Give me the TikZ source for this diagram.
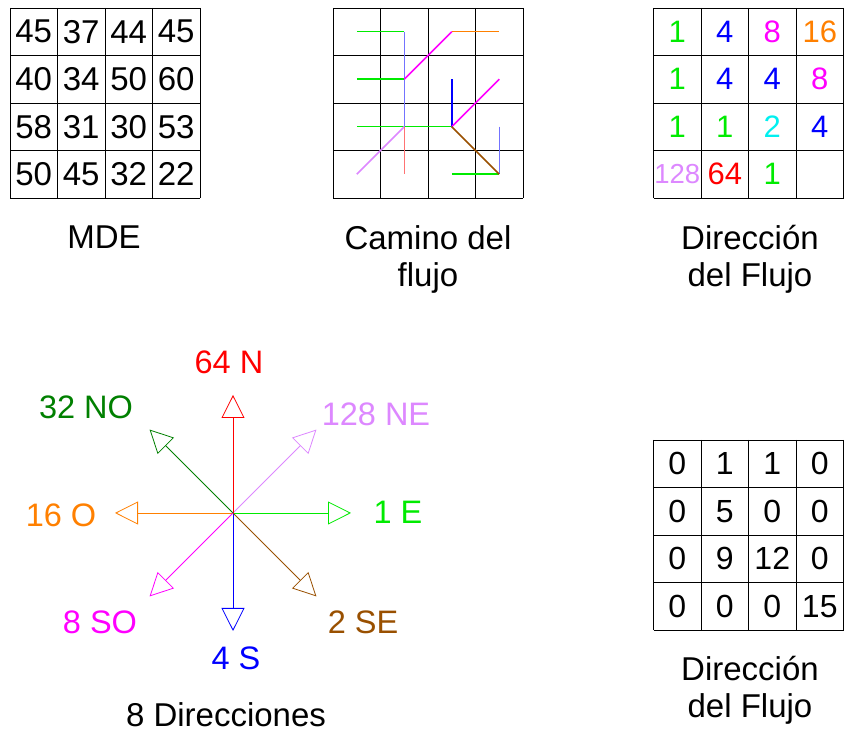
\documentclass[tikz,border=0pt]{standalone}
\usepackage{fontspec}
\setmainfont{Liberation Sans}
\usepackage{tikz}
\usetikzlibrary{arrows.meta, calc}
\definecolor{DirE}{RGB}{0, 235, 0}
\definecolor{DirSE}{RGB}{153, 80, 0}
\definecolor{DirS}{RGB}{0, 0, 255}
\definecolor{DirSO}{RGB}{255, 0, 255}
\definecolor{DirO}{RGB}{255, 128, 0}
\definecolor{DirNO}{RGB}{0, 128, 0}
\definecolor{DirN}{RGB}{255, 0, 0}
\definecolor{DirNE}{RGB}{221, 136, 255}
\definecolor{DirCyan}{RGB}{0, 240, 240}

\begin{document}
\begin{tikzpicture}[x=1pt,y=1pt,
  gridline/.style={line width=0.8pt, black},
  cell/.style={inner sep=0pt, font=\fontsize{33}{33}\selectfont},
  dircell/.style={inner sep=0pt, font=\fontsize{31}{31}\selectfont},
  acumcell/.style={inner sep=0pt, font=\fontsize{32}{32}\selectfont},
  caption/.style={inner sep=0pt, align=center, font=\fontsize{33}{37}\selectfont},
  flow/.style={line width=1.5pt},
  dirarrow/.style={line width=0.8pt, -{Triangle[open, length=23pt, width=23pt]}},
  dirlabel/.style={inner sep=0pt, font=\fontsize{32.5}{33}\selectfont}]
  \path[use as bounding box] (0,0) rectangle (844,733);
  \fill[white] (0,0) rectangle (844,733);

  % grids
  \foreach \gx/\gy in {10/725, 333/725, 653.5/725, 653.5/293}{
    \foreach \k in {0,...,4}{
      \draw[gridline] (\gx+47.5*\k, \gy) -- (\gx+47.5*\k, \gy-190);
      \draw[gridline] (\gx, \gy-47.5*\k) -- (\gx+190, \gy-47.5*\k);
    }
  }

  % MDE
  \foreach \row [count=\r] in {{45,37,44,45},{40,34,50,60},{58,31,30,53},{50,45,32,22}}{
    \foreach \v [count=\c] in \row {
      \node[cell] (mde-\r-\c) at ({10+47.5*(\c-0.5)}, {725-47.5*(\r-0.5)}) {\v};
    }
  }
  \node[caption] (mde-cap) at (104,496) {MDE};

  % camino del flujo
  \foreach \r in {1,...,4}{
    \foreach \c in {1,...,4}{
      \coordinate (p-\r-\c) at ({333+47.5*(\c-0.5)}, {725-47.5*(\r-0.5)});
    }
  }
  \draw[flow, DirE] (p-1-1) -- (p-1-2);
  \draw[flow, DirE] (p-2-1) -- (p-2-2);
  \draw[flow, DirE] (p-3-1) -- (p-3-3);
  \draw[flow, DirE] (p-4-3) -- (p-4-4);
  \draw[flow, DirS!55] (p-1-2) -- (p-3-2);
  \draw[flow, DirS!55] (p-3-4) -- (p-4-4);
  \draw[flow, DirS] (p-2-3) -- (p-3-3);
  \draw[flow, DirSO] (p-2-2) -- (p-1-3);
  \draw[flow, DirSO] (p-3-3) -- (p-2-4);
  \draw[flow, DirO] (p-1-3) -- (p-1-4);
  \draw[flow, DirNE] (p-4-1) -- (p-3-2);
  \draw[flow, DirN!55] (p-3-2) -- (p-4-2);
  \draw[flow, DirSE] (p-3-3) -- (p-4-4);
  \node[caption] (camino-cap) at (428,474) {Camino del\\flujo};

  % direccion del flujo
  \foreach \row [count=\r] in {{1/DirE,4/DirS,8/DirSO,16/DirO},{1/DirE,4/DirS,4/DirS,8/DirSO},{1/DirE,1/DirE,2/DirCyan,4/DirS}}{
    \foreach \v/\col [count=\c] in \row {
      \node[dircell, text=\col] (dir-\r-\c) at ({653.5+47.5*(\c-0.5)}, {725-47.5*(\r-0.5)}) {\v};
    }
  }
  \node[dircell, text=DirNE, font=\fontsize{27.5}{27.5}\selectfont] (dir-4-1) at (677.25,558.75) {128};
  \node[dircell, text=DirN] (dir-4-2) at (724.75,558.75) {64};
  \node[dircell, text=DirE] (dir-4-3) at (772.25,558.75) {1};
  \node[caption] (dir-cap) at (750,474) {Dirección\\del Flujo};

  % 8 direcciones
  \coordinate (o) at (233,220);
  \foreach \ang/\nm/\col in {0/E/DirE, 45/NE/DirNE, 90/N/DirN, 135/NO/DirNO,
                             180/O/DirO, 225/SO/DirSO, 270/S/DirS, 315/SE/DirSE}{
    \path (o) ++(\ang:118) coordinate (tip-\nm);
    \draw[dirarrow, \col] (o) -- (tip-\nm);
  }
  \node[dirlabel, text=DirN] (lab-N) at (229,371) {64 N};
  \node[dirlabel, text=DirNO] (lab-NO) at (86,326) {32 NO};
  \node[dirlabel, text=DirNE] (lab-NE) at (376,319) {128 NE};
  \node[dirlabel, text=DirE] (lab-E) at (398,221) {1 E};
  \node[dirlabel, text=DirO] (lab-O) at (61,218) {16 O};
  \node[dirlabel, text=DirSO] (lab-SO) at (100,111) {8 SO};
  \node[dirlabel, text=DirS] (lab-S) at (236,75) {4 S};
  \node[dirlabel, text=DirSE] (lab-SE) at (363,111) {2 SE};
  \node[inner sep=0pt, font=\fontsize{33}{33}\selectfont] (dirs-cap) at (226,18) {8 Direcciones};

  % acumulado
  \foreach \row [count=\r] in {{0,1,1,0},{0,5,0,0},{0,9,12,0},{0,0,0,15}}{
    \foreach \v [count=\c] in \row {
      \node[acumcell] (acum-\r-\c) at ({653.5+47.5*(\c-0.5)}, {293-47.5*(\r-0.5)}) {\v};
    }
  }
  \node[caption] (acum-cap) at (750,43) {Dirección\\del Flujo};
\end{tikzpicture}
\end{document}
